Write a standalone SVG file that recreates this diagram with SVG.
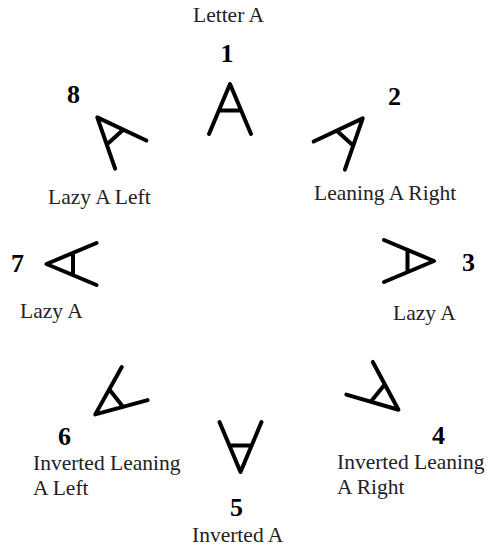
<svg xmlns="http://www.w3.org/2000/svg" xmlns:xlink="http://www.w3.org/1999/xlink" width="491" height="554" viewBox="0 0 491 554">
<style>
.lbl{font-family:"Liberation Serif","Times New Roman",serif;font-size:21.5px;fill:#222}
.num{font-family:"Liberation Serif","Times New Roman",serif;font-size:26px;font-weight:bold;fill:#000}
.sym{fill:none;stroke:#000;stroke-width:4;stroke-linecap:round;stroke-linejoin:round}
</style>
<defs>
<path id="A" class="sym" d="M-21,25 L0,-25 L21,25 M-11,1.5 H11"/>
</defs>
<rect width="491" height="554" fill="#fff"/>
<g id="node1">
<use xlink:href="#A" transform="translate(230,109)"/>
<text class="num" x="227" y="62" text-anchor="middle">1</text>
<text class="lbl" x="193" y="22">Letter A</text>
</g>
<g id="node2">
<use xlink:href="#A" transform="translate(346,137) rotate(42)"/>
<text class="num" x="388" y="105">2</text>
<text class="lbl" x="314" y="200">Leaning A Right</text>
</g>
<g id="node3">
<use xlink:href="#A" transform="translate(409,261) rotate(90)"/>
<text class="num" x="462" y="271">3</text>
<text class="lbl" x="393" y="320">Lazy A</text>
</g>
<g id="node4">
<use xlink:href="#A" transform="translate(379,394) rotate(129)"/>
<text class="num" x="432" y="444">4</text>
<text class="lbl" x="337" y="469">Inverted Leaning</text>
<text class="lbl" x="337" y="494">A Right</text>
</g>
<g id="node5">
<use xlink:href="#A" transform="translate(240.5,447) rotate(180)"/>
<text class="num" x="230" y="516">5</text>
<text class="lbl" x="192" y="542">Inverted A</text>
</g>
<g id="node6">
<use xlink:href="#A" transform="translate(115,399) rotate(-128)"/>
<text class="num" x="58" y="445">6</text>
<text class="lbl" x="33" y="470">Inverted Leaning</text>
<text class="lbl" x="33" y="495">A Left</text>
</g>
<g id="node7">
<use xlink:href="#A" transform="translate(71.5,264) rotate(-90)"/>
<text class="num" x="11" y="272">7</text>
<text class="lbl" x="20" y="318">Lazy A</text>
</g>
<g id="node8">
<use xlink:href="#A" transform="translate(114,136) rotate(-42)"/>
<text class="num" x="67" y="103">8</text>
<text class="lbl" x="48" y="204">Lazy A Left</text>
</g>
</svg>
